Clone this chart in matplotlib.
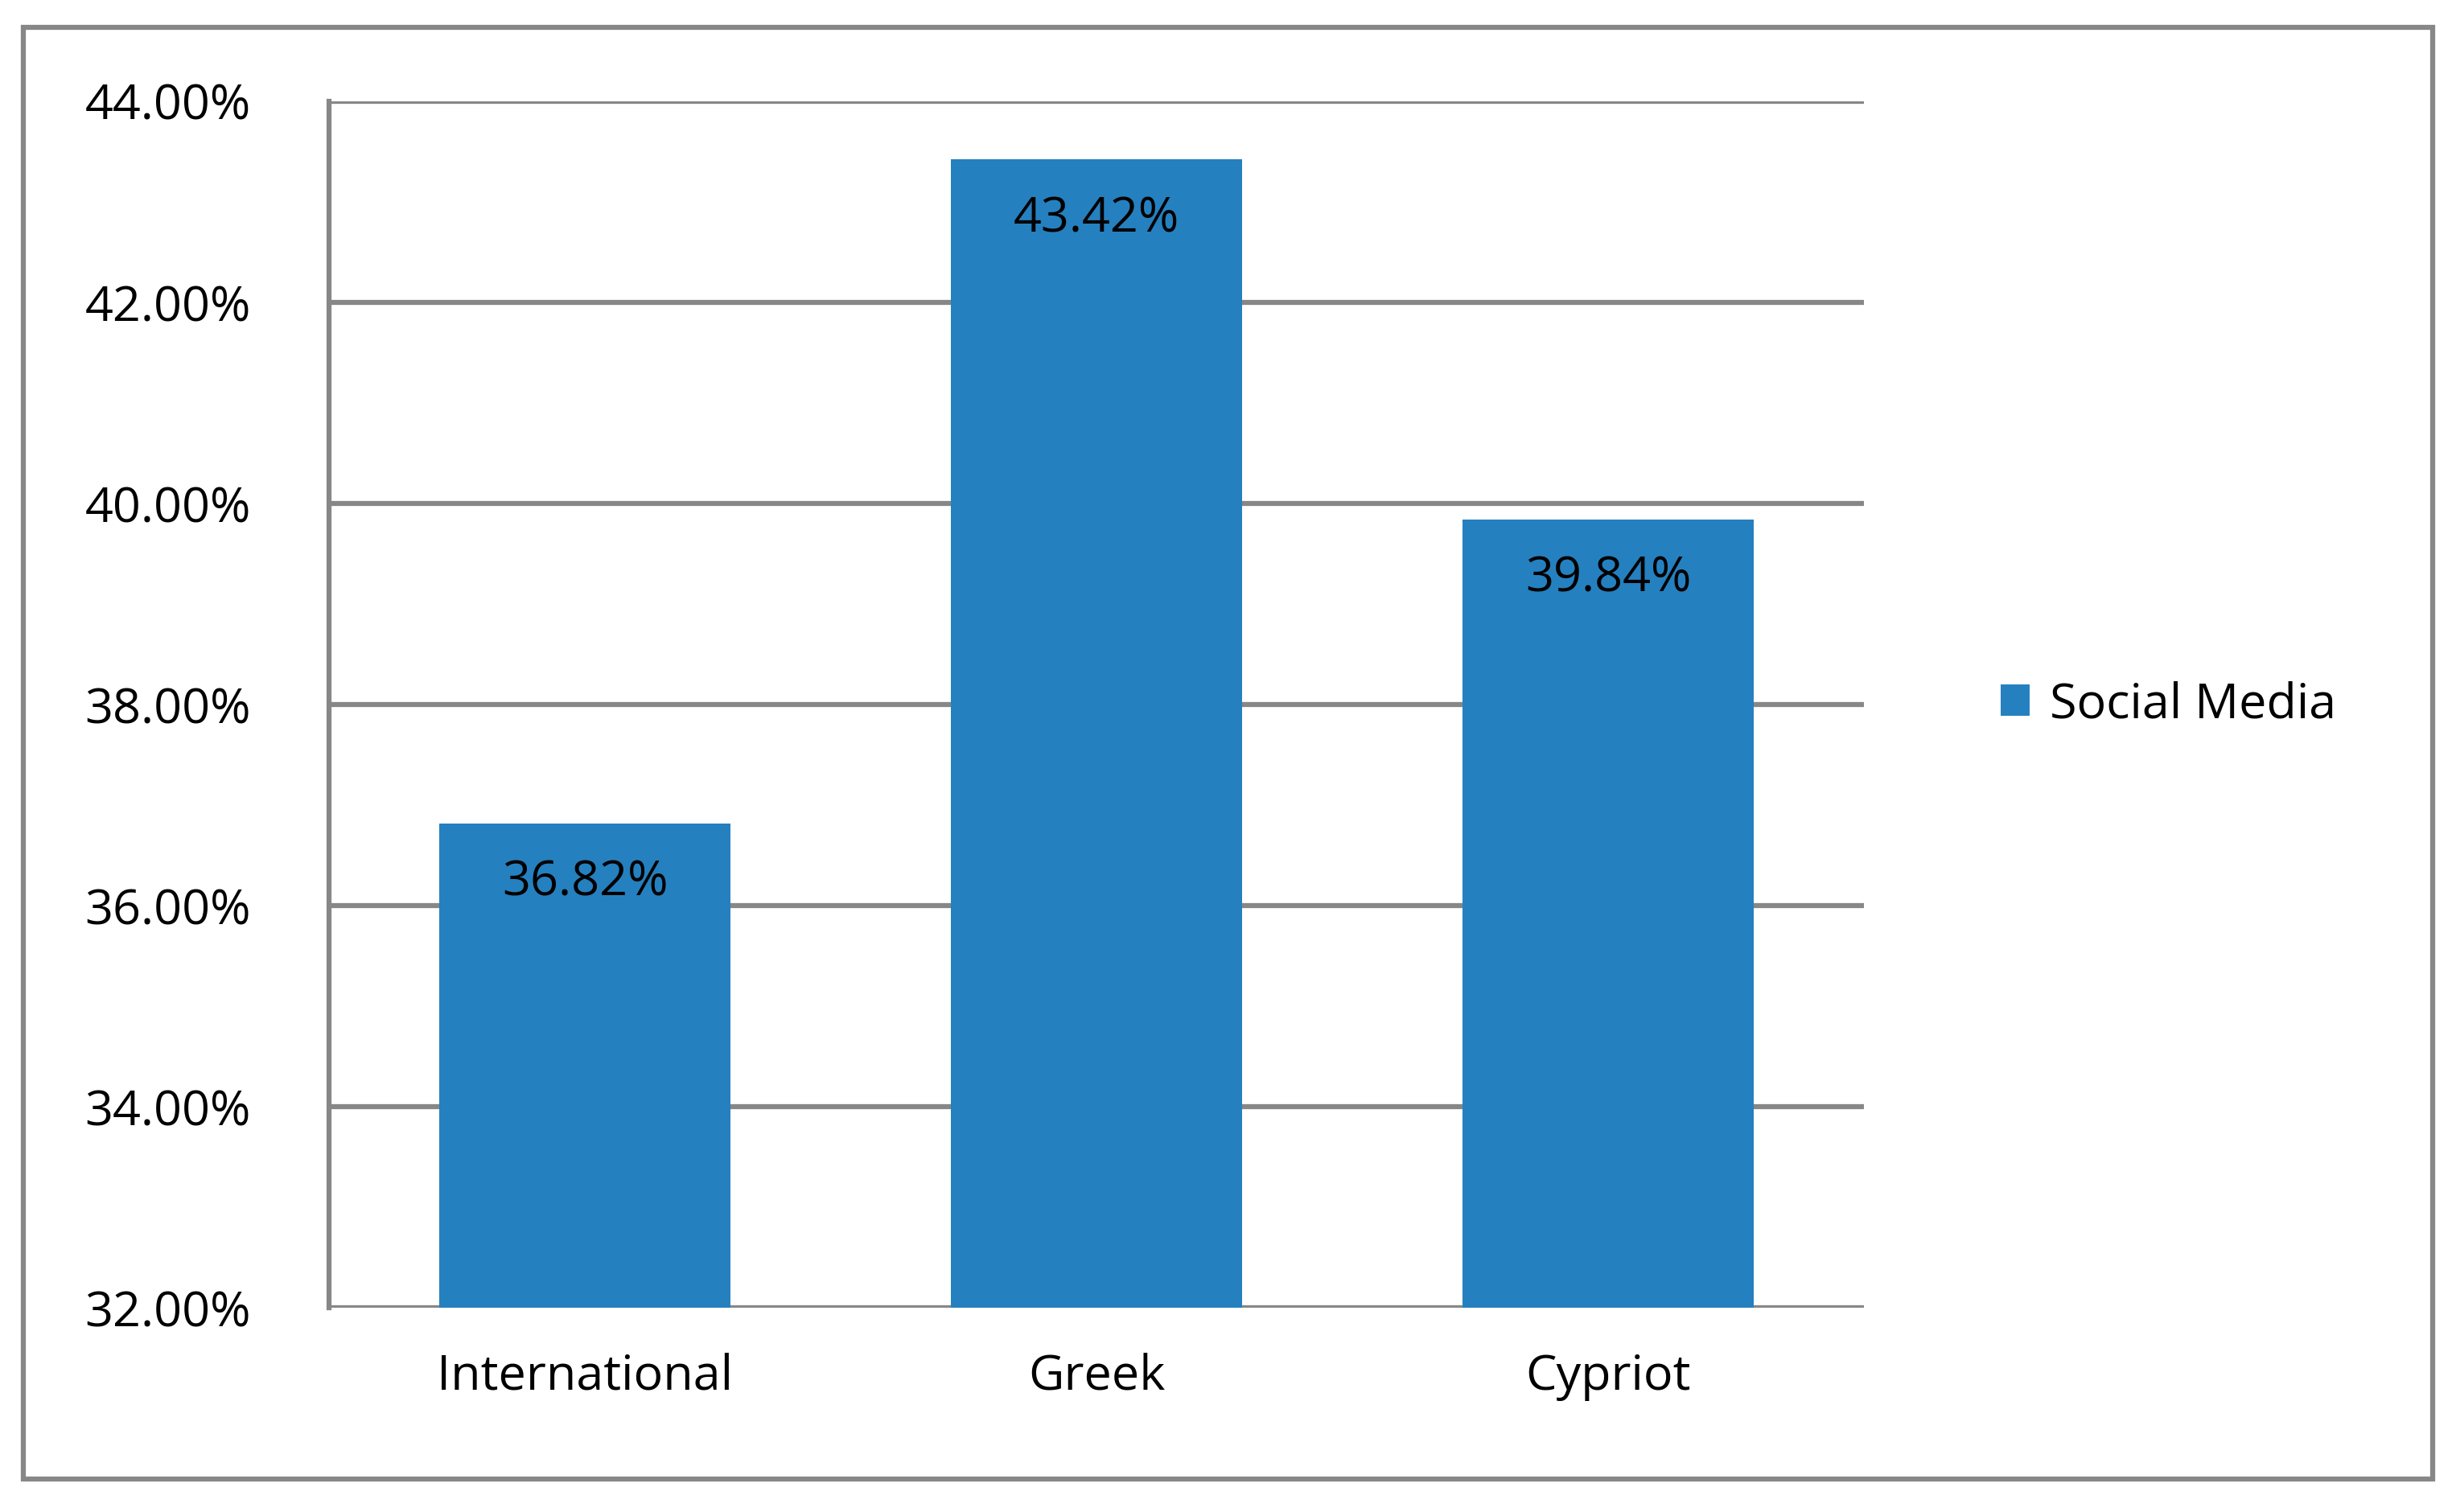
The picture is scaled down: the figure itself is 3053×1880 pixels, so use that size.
import matplotlib.pyplot as plt
from matplotlib.patches import Rectangle

categories = ['International', 'Greek', 'Cypriot']
values = [36.82, 43.42, 39.84]
series_name = 'Social Media'
yticks = [32, 34, 36, 38, 40, 42, 44]

plt.rcParams['font.family'] = ['Open Sans', 'DejaVu Sans']
fig = plt.figure(figsize=(30.53, 18.8), dpi=100)
ax = fig.add_axes([0.134, 0.135, 0.625, 0.798])

bar_color = '#2580BF'
grid_color = '#878787'
bars = ax.bar(categories, values, width=0.57, color=bar_color, zorder=3, label=series_name)
for b, v in zip(bars, values):
    ax.text(b.get_x() + b.get_width() / 2, v - 0.35, f'{v:.2f}%', ha='center', va='top',
            fontsize=44, color='black', zorder=4)

ax.set_ylim(32, 44)
ax.set_xlim(-0.5, 2.5)
ax.set_yticks(yticks)
ax.set_yticklabels([f'{t:.2f}%' for t in yticks])
ax.yaxis.grid(True, color=grid_color, linewidth=4.5, zorder=0)
for s in ['top', 'right', 'bottom']:
    ax.spines[s].set_visible(False)
ax.spines['left'].set_color(grid_color)
ax.spines['left'].set_linewidth(4.5)
ax.tick_params(axis='y', length=0, labelsize=44, pad=70)
ax.tick_params(axis='x', length=0, labelsize=44, pad=40)

leg = ax.legend(loc='center left', bbox_to_anchor=(1.06, 0.5), frameon=False, fontsize=44,
                handlelength=0.6, handleheight=0.6, handletextpad=0.4)

fig.patches.append(Rectangle((0.0096, 0.022), 0.981, 0.96, transform=fig.transFigure,
                             fill=False, edgecolor=grid_color, linewidth=4.5))
fig.savefig('out.png', dpi=100)
